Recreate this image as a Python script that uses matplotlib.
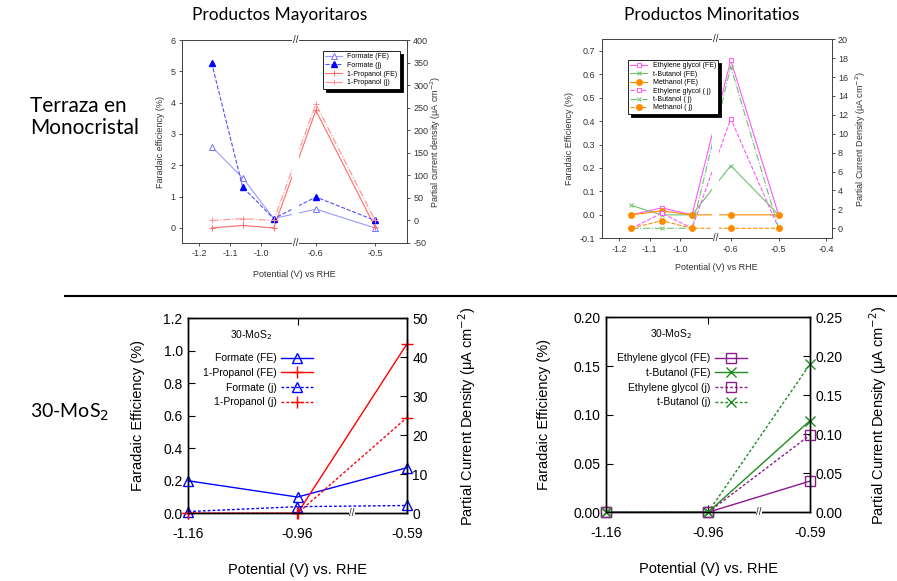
import numpy as np
import matplotlib
matplotlib.use("Agg")
import matplotlib.pyplot as plt
from matplotlib.transforms import blended_transform_factory

plt.rcParams['axes.unicode_minus'] = False
plt.rcParams['font.family'] = ['Liberation Sans', 'DejaVu Sans']

# Productos mayoritarios (terraza en monocristal)
pot_top = [-1.16, -1.06, -0.96, -0.6, -0.5]
formate_fe = [2.6, 1.6, 0.3, 0.6, 0.0]
formate_j = [350, 74, 4, 52, 0]
propanol_fe = [0.0, 0.08, 0.0, 3.75, 0.03]
propanol_j = [0, 4, 0, 258, 0]

# Productos minoritarios
eg_fe = [0.0, 0.03, 0.0, 0.66, 0.0]
tbu_fe = [0.04, 0.0, 0.0, 0.21, 0.0]
meoh_fe = [0.0, 0.017, 0.0, 0.0, 0.0]
eg_j = [0, 1.6, 0, 11.6, 0]
tbu_j = [0, 0, 0, 17.1, 0]
meoh_j = [0, 0.8, 0, 0, 0]

# 30-MoS2
pot_mos = [-1.16, -0.96, -0.59]
mos_formate_fe = [0.2, 0.1, 0.28]
mos_propanol_fe = [0.0, 0.0, 1.04]
mos_formate_j = [0.45, 1.7, 2.0]
mos_propanol_j = [0.0, 0.0, 24.5]
mos_eg_fe = [0.0, 0.0, 0.032]
mos_tbu_fe = [0.0, 0.0, 0.094]
mos_eg_j = [0.0, 0.0, 0.099]
mos_tbu_j = [0.0, 0.0, 0.19]


def broken_scale(x1, s1, x2, s2):
    # axis break: everything between x1 and x2 is squeezed to nothing
    def fwd(x):
        x = np.asarray(x, float)
        return np.where(x <= x1, s1 * (x - x1), np.where(x >= x2, s2 * (x - x2), 0.0))

    def inv(p):
        p = np.asarray(p, float)
        return np.where(p <= 0, x1 + p / s1, x2 + p / s2)
    return fwd, inv


def break_mark(ax, x, ys, size):
    tr = blended_transform_factory(ax.transData, ax.transAxes)
    for y in ys:
        ax.text(x, y, '//', transform=tr, ha='center', va='center', fontsize=size,
                color='#222222', clip_on=False, zorder=20,
                bbox=dict(facecolor='white', edgecolor='none', pad=0.3))


fig = plt.figure(figsize=(8.97, 5.81), dpi=100)
W, H = 897.0, 581.0


def rect(x0, x1, y0, y1):
    return [x0 / W, 1 - y1 / H, (x1 - x0) / W, (y1 - y0) / H]


grey = '#333333'

# ---------------- top-left ----------------
sc = broken_scale(-0.89, 310, -0.6344, 590)
ax1 = fig.add_axes(rect(181.7, 407, 40, 243))
ax1.set_xscale('function', functions=sc)
ax1b = ax1.twinx()
ax1.set_xlim(-1.256, -0.446)
ax1.set_xticks([-1.2, -1.1, -1.0, -0.6, -0.5])
ax1.set_ylim(-0.48, 6)
ax1.set_yticks(range(0, 7))
ax1b.set_ylim(-50, 400)
ax1b.set_yticks(range(-50, 401, 50))

l1, = ax1.plot(pot_top, formate_fe, '-', color='#9a9aff', lw=0.8, marker='^', ms=4,
               mfc='white', mec='#7070ff', mew=0.7, label='Formate (FE)')
l3, = ax1.plot(pot_top, propanol_fe, '-', color='#ff6a6a', lw=0.8, marker='+', ms=4,
               mew=0.7, label='1-Propanol (FE)')
l2, = ax1b.plot(pot_top, formate_j, '--', color='#5050ff', lw=0.8, marker='^', ms=4,
                mfc='#0000ff', mec='#0000ff', label='Formate (j)')
l4, = ax1b.plot(pot_top, propanol_j, '-.', color='#ff9090', lw=0.8, marker='+', ms=4,
                mew=0.7, label='1-Propanol (j)')
ax1b.axvspan(-0.89 - 3 / 310, -0.6344 + 3 / 590, color='white', zorder=5, lw=0)
leg = ax1b.legend([l1, l2, l3, l4], [h.get_label() for h in [l1, l2, l3, l4]],
                  loc='upper left', bbox_to_anchor=(0.626, 0.947), fontsize=5,
                  handlelength=2.4, labelspacing=0.25, borderpad=0.35, borderaxespad=0,
                  fancybox=False, edgecolor='black', shadow={'color': 'black', 'alpha': 1})
leg.get_frame().set_linewidth(0.6)
leg.set_zorder(30)
break_mark(ax1b, -0.89, [0, 1], 7)

ax1.set_ylabel('Faradaic efficiency (%)', fontsize=6.5, color=grey)
ax1b.set_ylabel('Partial current density (\u03bcA cm$^{-2}$)', fontsize=6.5, color=grey)
ax1.set_xlabel('Potential (V) vs RHE', fontsize=6.5, color=grey)
ax1.yaxis.set_label_coords(-0.074, 0.5)
ax1b.yaxis.set_label_coords(1.095, 0.5)
ax1.xaxis.set_label_coords(0.5, -0.133)

# ---------------- top-right ----------------
sc2 = broken_scale(-0.881, 303, -0.6308, 478)
ax2 = fig.add_axes(rect(601.7, 831.7, 39.3, 238.3))
ax2.set_xscale('function', functions=sc2)
ax2b = ax2.twinx()
ax2.set_xlim(-1.258, -0.389)
ax2.set_xticks([-1.2, -1.1, -1.0, -0.6, -0.5, -0.4])
ax2.set_ylim(-0.1, 0.749)
ax2.set_yticks(np.arange(-0.1, 0.71, 0.1))
ax2b.set_ylim(-1.06, 20)
ax2b.set_yticks(range(0, 21, 2))

pink, green, orange = '#ff55ff', '#70c070', '#ff8c00'
m1, = ax2.plot(pot_top, eg_fe, '-', color=pink, lw=0.8, marker='s', ms=3.5, mfc='white',
               mew=0.7, label='Ethylene glycol (FE)')
m2, = ax2.plot(pot_top, tbu_fe, '-', color=green, lw=0.8, marker='x', ms=3.5, mew=0.7,
               label='t-Butanol (FE)')
m3, = ax2.plot(pot_top, meoh_fe, '-', color=orange, lw=0.8, marker='o', ms=4,
               label='Methanol (FE)')
m4, = ax2b.plot(pot_top, eg_j, '--', color=pink, lw=0.8, marker='s', ms=3.5, mfc='white',
                mew=0.7, label='Ethylene glycol ( j)')
m5, = ax2b.plot(pot_top, tbu_j, '-.', color=green, lw=0.8, marker='x', ms=3.5, mew=0.7,
                label='t-Butanol ( j)')
m6, = ax2b.plot(pot_top, meoh_j, '--', color=orange, lw=0.8, marker='o', ms=4,
                label='Methanol ( j)')
ax2b.axvspan(-0.881 - 4 / 303, -0.6308 + 3 / 478, color='white', zorder=5, lw=0)
hs = [m1, m2, m3, m4, m5, m6]
leg = ax2b.legend(hs, [h.get_label() for h in hs], loc='upper left',
                  bbox_to_anchor=(0.114, 0.896), fontsize=5, handlelength=2.4,
                  labelspacing=0.2, borderpad=0.35, borderaxespad=0, fancybox=False,
                  edgecolor='black', shadow={'color': 'black', 'alpha': 1})
leg.get_frame().set_linewidth(0.6)
leg.set_zorder(30)
break_mark(ax2b, -0.881, [0, 1], 7)

ax2.set_ylabel('Faradaic Efficiency (%)', fontsize=6.5, color=grey)
ax2b.set_ylabel('Partial Current Density (\u03bcA cm$^{-2}$)', fontsize=6.5, color=grey)
ax2.set_xlabel('Potential (V) vs RHE', fontsize=6.5, color=grey)
ax2.yaxis.set_label_coords(-0.12, 0.5)
ax2b.yaxis.set_label_coords(1.095, 0.5)
ax2.xaxis.set_label_coords(0.5, -0.124)

for a in [ax1, ax1b, ax2, ax2b]:
    a.tick_params(direction='out', length=2.5, width=0.6, labelsize=6.5, colors=grey,
                  pad=2)
    a.minorticks_off()
    for s in a.spines.values():
        s.set_linewidth(0.7)
        s.set_color('#444444')

# ---------------- bottom (30-MoS2) ----------------
sc3 = broken_scale(-0.86, 5, -0.69, 5)


def mos_axes(r, ylim, yticks, ylim2, yticks2, fmt, fmt2):
    ax = fig.add_axes(r)
    ax.set_xscale('function', functions=sc3)
    axb = ax.twinx()
    ax.set_xlim(-1.16, -0.59)
    ax.set_xticks(pot_mos, labels=['%.2f' % v for v in pot_mos])
    ax.set_ylim(*ylim)
    ax.set_yticks(yticks, labels=[fmt % v for v in yticks])
    axb.set_ylim(*ylim2)
    axb.set_yticks(yticks2, labels=[fmt2 % v for v in yticks2])
    for a in [ax, axb]:
        a.minorticks_off()
        a.tick_params(direction='in', length=5, width=0.8, labelsize=10, pad=4)
        for s in a.spines.values():
            s.set_linewidth(1.0)
    ax.tick_params(axis='x', top=True, pad=10)
    ax.set_xlabel('Potential (V) vs. RHE', fontsize=10.5)
    ax.xaxis.set_label_coords(0.5, -0.255)
    ax.set_ylabel('Faradaic Efficiency (%)', fontsize=10.5)
    axb.set_ylabel('Partial Current Density (\u03bcA cm$^{-2}$)', fontsize=10.5)
    break_mark(axb, -0.86, [0], 7)
    return ax, axb


ax3, ax3b = mos_axes(rect(188.3, 406.7, 318.3, 513.3), (0, 1.2), [0, 0.2, 0.4, 0.6, 0.8, 1.0, 1.2],
                     (0, 50), [0, 10, 20, 30, 40, 50], '%.1f', '%d')
ax3.yaxis.set_label_coords(-0.2, 0.5)
ax3b.yaxis.set_label_coords(1.226, 0.5)
dot = (0, (2, 1.5))
b1, = ax3.plot(pot_mos, mos_formate_fe, '-', color='#0000ff', lw=1, marker='^', ms=7,
               mfc='none', mew=1, clip_on=False, label='Formate (FE)')
b2, = ax3.plot(pot_mos, mos_propanol_fe, '-', color='#ff0000', lw=1, marker='+', ms=8,
               mew=1, clip_on=False, label='1-Propanol (FE)')
b3, = ax3b.plot(pot_mos, mos_formate_j, linestyle=dot, color='#0000ff', lw=1, marker='^',
                ms=7, mfc='none', mew=1, clip_on=False, label='Formate (j)')
b4, = ax3b.plot(pot_mos, mos_propanol_j, linestyle=dot, color='#ff0000', lw=1, marker='+',
                ms=8, mew=1, clip_on=False, label='1-Propanol (j)')
hs = [b1, b2, b3, b4]
ax3b.legend(hs, [h.get_label() for h in hs], loc='upper right', bbox_to_anchor=(0.571, 0.82),
            frameon=False, markerfirst=False, fontsize=7.5, handlelength=3.1,
            handletextpad=0.4, labelspacing=0.45, borderpad=0, borderaxespad=0)
ax3b.text(0.19, 0.914, '30-MoS$_2$', transform=ax3b.transAxes, fontsize=7.5,
          ha='left', va='center')

ax4, ax4b = mos_axes(rect(606, 810, 317.3, 512.3), (0, 0.2), [0, 0.05, 0.10, 0.15, 0.20],
                     (0, 0.25), [0, 0.05, 0.10, 0.15, 0.20, 0.25], '%.2f', '%.2f')
ax4.yaxis.set_label_coords(-0.27, 0.5)
ax4b.yaxis.set_label_coords(1.279, 0.5)
purple, dgreen = '#8b1a8b', '#1e8c1e'
c1, = ax4.plot(pot_mos, mos_eg_fe, '-', color=purple, lw=1, marker='s', ms=6.5,
               mfc='none', mew=1, clip_on=False, label='Ethylene glycol (FE)')
c2, = ax4.plot(pot_mos, mos_tbu_fe, '-', color=dgreen, lw=1, marker='x', ms=6.5,
               mew=1, clip_on=False, label='t-Butanol (FE)')
c3, = ax4b.plot(pot_mos, mos_eg_j, linestyle=dot, color=purple, lw=1, marker='s', ms=6.5,
                mfc='none', mew=1, clip_on=False, label='Ethylene glycol (j)')
c4, = ax4b.plot(pot_mos, mos_tbu_j, linestyle=dot, color=dgreen, lw=1, marker='x', ms=6.5,
                mew=1, clip_on=False, label='t-Butanol (j)')
hs = [c1, c2, c3, c4]
ax4b.legend(hs, [h.get_label() for h in hs], loc='upper right', bbox_to_anchor=(0.691, 0.815),
            frameon=False, markerfirst=False, fontsize=7.5, handlelength=3.1,
            handletextpad=0.4, labelspacing=0.45, borderpad=0, borderaxespad=0)
ax4b.text(0.216, 0.914, '30-MoS$_2$', transform=ax4b.transAxes, fontsize=7.5,
          ha='left', va='center')

# ---------------- page texts ----------------
big = ['Lato', 'DejaVu Sans']
fig.text(280 / W, 1 - 15 / H, 'Productos Mayoritaros', ha='center', va='center',
         fontsize=12.5, family=big)
fig.text(712 / W, 1 - 15 / H, 'Productos Minoritatios', ha='center', va='center',
         fontsize=12.5, family=big)
fig.text(30 / W, 1 - 117 / H, 'Terraza en\nMonocristal', ha='left', va='center',
         fontsize=15, family=big, linespacing=1.15)
fig.text(30 / W, 1 - 412 / H, '30-MoS$_2$', ha='left', va='center', fontsize=14,
         family=big)
fig.add_artist(plt.Line2D([65 / W, 1], [1 - 296 / H, 1 - 296 / H], color='black', lw=1.5))

fig.savefig('out.png', dpi=100)
